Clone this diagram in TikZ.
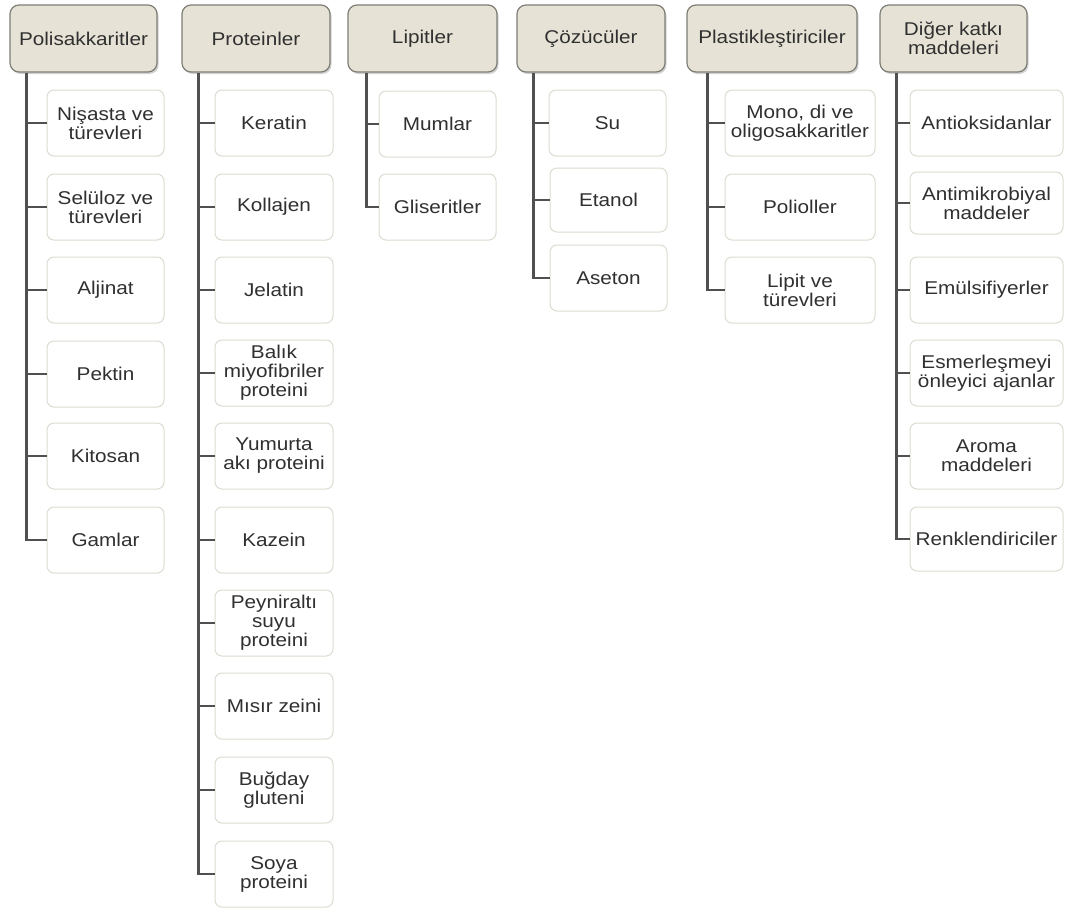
\documentclass[tikz,border=0pt]{standalone}
\usepackage{fontspec}
\setmainfont{Liberation Sans}[FakeStretch=1.12]
\usetikzlibrary{shadows}
\definecolor{hdrfill}{HTML}{E6E3D6}
\definecolor{hdrdraw}{HTML}{7E7E76}
\definecolor{kiddraw}{HTML}{DCDCD2}
\definecolor{linecol}{HTML}{505050}
\definecolor{txtcol}{HTML}{303030}
\tikzset{
  hdr/.style={draw=hdrdraw, fill=hdrfill, line width=1.2pt, rounded corners=9pt,
    minimum height=67pt, inner sep=0pt, align=center, text=txtcol,
    font=\fontsize{18.5}{19}\selectfont,
    drop shadow={shadow xshift=1.5pt, shadow yshift=-2pt, opacity=0.35}},
  kid/.style={draw=kiddraw, fill=white, line width=1pt, rounded corners=7pt,
    minimum height=66pt, inner sep=0pt, align=center, text=txtcol,
    font=\fontsize{18.5}{19}\selectfont},
  conn/.style={draw=linecol, line width=2.5pt, line join=miter}
}
\begin{document}
\begin{tikzpicture}[x=1pt,y=-1pt]
\useasboundingbox[fill=white] (0,0) rectangle (1066,911);
% headers
\node[hdr, minimum width=147pt] (h1) at (83.5,38.5) {Polisakkaritler};
\node[hdr, minimum width=148pt] (h2) at (256,38.5) {Proteinler};
\node[hdr, minimum width=149pt] (h3) at (422.5,38.5) {Lipitler};
\node[hdr, minimum width=148pt] (h4) at (591,38.5) {Çözücüler};
\node[hdr, minimum width=170pt] (h5) at (772,38.5) {Plastikleştiriciler};
\node[hdr, minimum width=147pt] (h6) at (953.5,38.5) {Diğer katkı\\maddeleri};
% trunk tops
\coordinate (t1) at ([xshift=17pt]h1.south west);
\coordinate (t2) at ([xshift=17pt]h2.south west);
\coordinate (t3) at ([xshift=19pt]h3.south west);
\coordinate (t4) at ([xshift=17pt]h4.south west);
\coordinate (t5) at ([xshift=21pt]h5.south west);
\coordinate (t6) at ([xshift=17pt]h6.south west);
% column 1
\node[kid, minimum width=117pt] (c11) at (105.5,123) {Nişasta ve\\türevleri};
\node[kid, minimum width=117pt] (c12) at (105.5,207) {Selüloz ve\\türevleri};
\node[kid, minimum width=117pt] (c13) at (105.5,290) {Aljinat};
\node[kid, minimum width=117pt] (c14) at (105.5,374) {Pektin};
\node[kid, minimum width=117pt] (c15) at (105.5,456) {Kitosan};
\node[kid, minimum width=117pt] (c16) at (105.5,540) {Gamlar};
% column 2
\node[kid, minimum width=118pt] (c21) at (274,123) {Keratin};
\node[kid, minimum width=118pt] (c22) at (274,207) {Kollajen};
\node[kid, minimum width=118pt] (c23) at (274,290) {Jelatin};
\node[kid, minimum width=118pt] (c24) at (274,373) {Balık\\miyofibriler\\proteini};
\node[kid, minimum width=118pt] (c25) at (274,456) {Yumurta\\akı proteini};
\node[kid, minimum width=118pt] (c26) at (274,540) {Kazein};
\node[kid, minimum width=118pt] (c27) at (274,623) {Peyniraltı\\suyu\\proteini};
\node[kid, minimum width=118pt] (c28) at (274,706) {Mısır zeini};
\node[kid, minimum width=118pt] (c29) at (274,790) {Buğday\\gluteni};
\node[kid, minimum width=118pt] (c210) at (274,874) {Soya\\proteini};
% column 3
\node[kid, minimum width=117pt] (c31) at (437.5,124) {Mumlar};
\node[kid, minimum width=117pt] (c32) at (437.5,207) {Gliseritler};
% column 4
\node[kid, minimum width=117pt] (c41) at (607.5,123) {Su};
\node[kid, minimum width=117pt, minimum height=64pt] (c42) at (608.5,200) {Etanol};
\node[kid, minimum width=117pt] (c43) at (608.5,278) {Aseton};
% column 5
\node[kid, minimum width=150pt] (c51) at (800,123) {Mono, di ve\\oligosakkaritler};
\node[kid, minimum width=150pt] (c52) at (800,207) {Polioller};
\node[kid, minimum width=150pt] (c53) at (800,290) {Lipit ve\\türevleri};
% column 6
\node[kid, minimum width=153pt] (c61) at (986.5,123) {Antioksidanlar};
\node[kid, minimum width=153pt, minimum height=62pt] (c62) at (986.5,203) {Antimikrobiyal\\maddeler};
\node[kid, minimum width=153pt] (c63) at (986.5,290) {Emülsifiyerler};
\node[kid, minimum width=153pt] (c64) at (986.5,373) {Esmerleşmeyi\\önleyici ajanlar};
\node[kid, minimum width=153pt] (c65) at (986.5,456) {Aroma\\maddeleri};
\node[kid, minimum width=153pt, minimum height=64pt] (c66) at (986.5,539) {Renklendiriciler};
% connectors
\draw[conn] (t1) |- (c16.west);
\foreach \c in {c11,c12,c13,c14,c15} \draw[conn] (\c.west -| t1) -- (\c.west);
\draw[conn] (t2) |- (c210.west);
\foreach \c in {c21,c22,c23,c24,c25,c26,c27,c28,c29} \draw[conn] (\c.west -| t2) -- (\c.west);
\draw[conn] (t3) |- (c32.west);
\draw[conn] (c31.west -| t3) -- (c31.west);
\draw[conn] (t4) |- (c43.west);
\foreach \c in {c41,c42} \draw[conn] (\c.west -| t4) -- (\c.west);
\draw[conn] (t5) |- (c53.west);
\foreach \c in {c51,c52} \draw[conn] (\c.west -| t5) -- (\c.west);
\draw[conn] (t6) |- (c66.west);
\foreach \c in {c61,c62,c63,c64,c65} \draw[conn] (\c.west -| t6) -- (\c.west);
\end{tikzpicture}
\end{document}
